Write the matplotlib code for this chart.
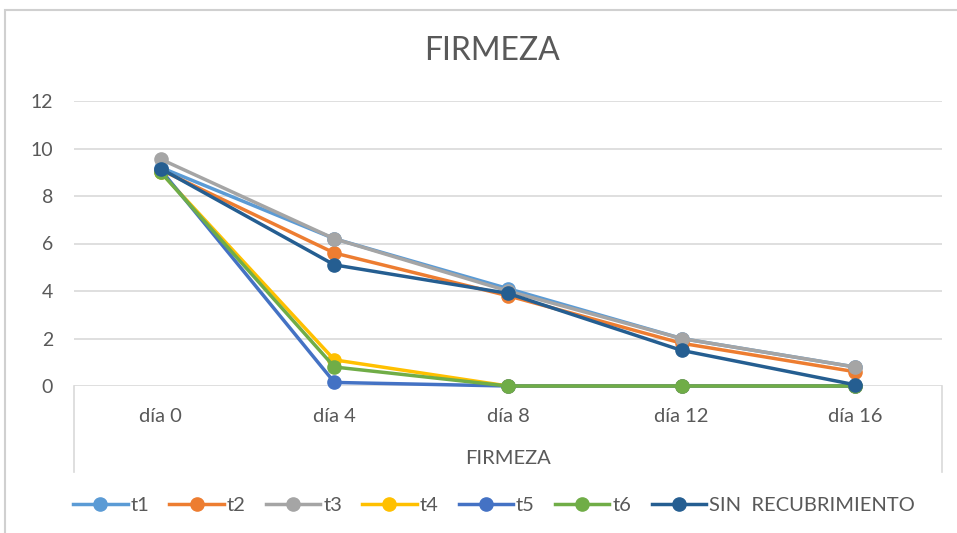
import matplotlib
matplotlib.use("Agg")
import matplotlib.pyplot as plt
from matplotlib.patches import Rectangle

# datos
dias = ["día 0", "día 4", "día 8", "día 12", "día 16"]
t1 = [9.2, 6.2, 4.1, 2.0, 0.8]
t2 = [9.1, 5.6, 3.8, 1.8, 0.6]
t3 = [9.55, 6.2, 4.0, 2.0, 0.8]
t4 = [9.0, 1.1, 0.0, 0.0, 0.0]
t5 = [9.1, 0.15, 0.0, 0.0, 0.0]
t6 = [9.0, 0.8, 0.0, 0.0, 0.0]
sin_recub = [9.15, 5.1, 3.9, 1.5, 0.05]

series = [("t1", t1, "#5B9BD5"), ("t2", t2, "#ED7D31"), ("t3", t3, "#A5A5A5"),
          ("t4", t4, "#FFC000"), ("t5", t5, "#4472C4"), ("t6", t6, "#70AD47"),
          ("SIN  RECUBRIMIENTO", sin_recub, "#255E91")]

plt.rcParams["font.family"] = ["Lato", "DejaVu Sans"]
txt = "#595959"
grid = "#D9D9D9"

W, H = 957, 533
fig = plt.figure(figsize=(W / 100, H / 100), dpi=100)
ax = fig.add_axes([74 / W, (H - 386) / H, (942 - 74) / W, (386 - 101) / H])

x = list(range(len(dias)))
for nombre, vals, col in series:
    ax.plot(x, vals, color=col, lw=2.5, marker="o", ms=9.5, label=nombre, clip_on=False)

ax.set_xlim(-0.5, 4.5)
ax.set_ylim(0, 12)
ax.set_yticks(range(0, 13, 2))
ax.yaxis.grid(True, color=grid, lw=1.2)
ax.set_axisbelow(True)
for s in ax.spines.values():
    s.set_visible(False)
ax.tick_params(axis="y", length=0, pad=15, labelsize=14, labelcolor=txt)
ax.tick_params(axis="x", length=0, pad=16, labelsize=14.5, labelcolor=txt)
ax.set_xticks(x)
ax.set_xticklabels(dias)

# caja del eje de categorias (dos niveles)
h = (472 - 386) / (386 - 101)
for xv in (0, 1):
    ax.plot([xv, xv], [0, -h], transform=ax.transAxes, color=grid, lw=1.2, clip_on=False)
ax.text(0.5, -(458 - 386) / (386 - 101), "FIRMEZA", transform=ax.transAxes,
        ha="center", va="center", fontsize=14.5, color=txt)

fig.text(492 / W, 1 - 51 / H, "FIRMEZA", ha="center", va="center", fontsize=23, color=txt)

fig.legend(loc="center", bbox_to_anchor=(494 / W, 1 - 505 / H), ncol=7, frameon=False,
           fontsize=14.5, labelcolor=txt, handlelength=2.7, handletextpad=0.15,
           columnspacing=1.0)

fig.patches.append(Rectangle((5 / W, -0.1), 1.2, 1 - 10 / H + 0.1, transform=fig.transFigure,
                             fill=False, edgecolor="#D0D0D0", lw=1.5))

fig.savefig("out.png", dpi=100)
